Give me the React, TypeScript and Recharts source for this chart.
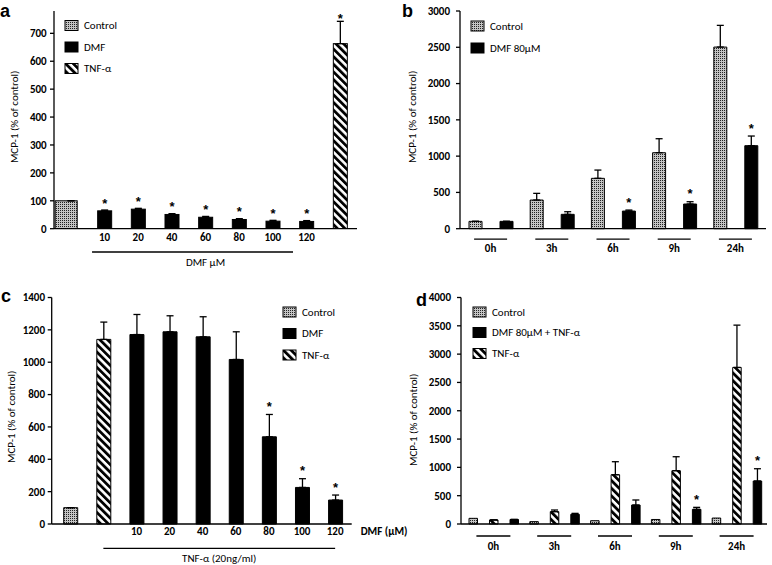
import React from 'react';
import { BarChart, Bar, XAxis, YAxis, ErrorBar, Cell, LabelList } from 'recharts';

const FONT = 'Carlito, Lato, "Open Sans", sans-serif';

// ---------- Panel a ----------
const aCats = ['Control', '10', '20', '40', '60', '80', '100', '120', 'TNF-α'];
const aGroup = ['Control', 'DMF', 'DMF', 'DMF', 'DMF', 'DMF', 'DMF', 'DMF', 'TNF-α'];
const aValues = [100, 64, 70, 51, 41, 33, 27, 26, 663];
const aErr = [0, 3, 3, 3, 3, 3, 3, 3, 80];
const aSig = ['', '*', '*', '*', '*', '*', '*', '*', '*'];
const aTicks = [0, 100, 200, 300, 400, 500, 600, 700];
const aSeries = ['Control', 'DMF', 'TNF-α'];

// ---------- Panel b ----------
const bCats = ['0h', '3h', '6h', '9h', '24h'];
const bControl = [101, 395, 694, 1047, 2503];
const bControlErr = [0, 92, 114, 193, 299];
const bDmf = [101, 198, 243, 340, 1144];
const bDmfErr = [0, 36, 14, 32, 133];
const bDmfSig = ['', '', '*', '*', '*'];
const bTicks = [0, 500, 1000, 1500, 2000, 2500, 3000];
const bSeries = ['Control', 'DMF 80µM'];

// ---------- Panel c ----------
const cCats = ['Control', 'TNF-α', '10', '20', '40', '60', '80', '100', '120'];
const cGroup = ['Control', 'TNF-α', 'DMF', 'DMF', 'DMF', 'DMF', 'DMF', 'DMF', 'DMF'];
const cValues = [101, 1141, 1171, 1188, 1157, 1017, 539, 226, 148];
const cErr = [0, 107, 124, 99, 124, 171, 138, 54, 31];
const cSig = ['', '', '', '', '', '', '*', '*', '*'];
const cTicks = [0, 200, 400, 600, 800, 1000, 1200, 1400];
const cSeries = ['Control', 'DMF', 'TNF-α'];

// ---------- Panel d ----------
const dCats = ['0h', '3h', '6h', '9h', '24h'];
const dControl = [100, 42, 58, 80, 105];
const dTnf = [72, 218, 870, 941, 2765];
const dTnfErr = [0, 29, 230, 247, 747];
const dDmf = [80, 171, 335, 259, 759];
const dDmfErr = [0, 17, 89, 35, 217];
const dDmfSig = ['', '', '', '*', '*'];
const dTicks = [0, 500, 1000, 1500, 2000, 2500, 3000, 3500, 4000];
const dSeries = ['Control', 'DMF 80µM + TNF-α', 'TNF-α'];

// ---------- tables ----------
const aData = aCats.map((c, i) => ({ cat: c, value: aValues[i], err: [0, aErr[i]], sig: aSig[i] }));
const bData = bCats.map((c, i) => ({
  cat: c, ctrl: bControl[i], ctrlErr: [0, bControlErr[i]], dmf: bDmf[i], dmfErr: [0, bDmfErr[i]], sig: bDmfSig[i],
}));
const cData = cCats.map((c, i) => ({ cat: c, value: cValues[i], err: [0, cErr[i]], sig: cSig[i] }));
const dData = dCats.map((c, i) => ({
  cat: c, ctrl: dControl[i], tnf: dTnf[i], tnfErr: [0, dTnfErr[i]], dmf: dDmf[i], dmfErr: [0, dDmfErr[i]], sig: dDmfSig[i],
}));

// ---------- styles ----------
const CTRL = 'url(#ctrlPat)';
const STRIPE = 'url(#stripePat)';
const fillFor = (g: string) => (g === 'Control' ? CTRL : g.startsWith('DMF') ? '#000' : STRIPE);
const AX = { stroke: '#000', strokeWidth: 1.3 };
const TICK = { fontSize: 11, fontWeight: 700, fill: '#000' };

const makeStar = (errs: number[], vals: number[], gap: number, minY: number) => (p: any) => {
  const { x, y, width, height, value } = p;
  if (!value) return null;
  const index = p.index;
  const v = vals[index];
  const ePx = v ? (errs[index] * Math.abs(height)) / v : 0;
  let cy = y - ePx - gap;
  if (cy < minY) cy = minY;
  return (
    <text x={x + width / 2} y={cy + 7.5} textAnchor="middle" fontSize={13} fontWeight={700} fill="#000"
      fontFamily="'Liberation Sans', Arial, sans-serif">*</text>
  );
};

const yTitle = (cx: number, dy: number) => (p: any) => {
  const vb = p.viewBox || { y: 0, height: 0 };
  const cy = vb.y + vb.height / 2 + dy;
  return (
    <text x={cx} y={cy} transform={`rotate(-90 ${cx} ${cy})`} textAnchor="middle" dominantBaseline="central"
      fontSize={11} fill="#000">MCP-1 (% of control)</text>
  );
};

// ---------- ticks ----------
const TickNum = (labels: string[], dy: number) => (p: any) => {
  const { x, y, index } = p;
  const t = labels[index];
  if (!t) return <g />;
  return (
    <text x={x} y={y + dy} textAnchor="middle" dominantBaseline="central" fontSize={11} fontWeight={700} fill="#000">{t}</text>
  );
};

const TickGroup = (lineDy: number, textDy: number, half: number) => (p: any) => {
  const { x, y, payload } = p;
  return (
    <g>
      <line x1={x - half} x2={x + half} y1={y + lineDy} y2={y + lineDy} stroke="#000" strokeWidth={1.3} />
      <text x={x} y={y + textDy} textAnchor="middle" dominantBaseline="central" fontSize={11} fontWeight={700} fill="#000">{payload.value}</text>
    </g>
  );
};

const aTickLabels = aCats.map((c, i) => (aGroup[i] === 'DMF' ? c : ''));
const cTickLabels = cCats.map((c, i) => (cGroup[i] === 'DMF' ? c : ''));

const aXLabel = (p: any) => {
  const { x, y, width } = p.viewBox;
  const b = width / aCats.length;
  return (
    <g>
      <line x1={x + b * 1.13} x2={x + b * 7.1} y1={y + 23.3} y2={y + 23.3} stroke="#000" strokeWidth={1.3} />
      <text x={x + width / 2} y={y + 33.5} textAnchor="middle" dominantBaseline="central" fontSize={11} fill="#000">DMF µM</text>
    </g>
  );
};

const cXLabel = (p: any) => {
  const { x, y, width } = p.viewBox;
  const x0 = x + 2;
  const b = (width - 2) / cCats.length;
  return (
    <g>
      <text x={x + width + 9} y={y + 7.7} dominantBaseline="central" fontSize={11} fontWeight={700} fill="#000">DMF (µM)</text>
      <line x1={x0 + b * 1.5} x2={x0 + b * 8.5} y1={y + 24.3} y2={y + 24.3} stroke="#000" strokeWidth={1.3} />
      <text x={x0 + b * 5} y={y + 34.3} textAnchor="middle" dominantBaseline="central" fontSize={11} fill="#000">TNF-α (20ng/ml)</text>
    </g>
  );
};

const aShape = (p: any) => {
  let { x, width } = p;
  const { y, height, index } = p;
  if (aGroup[index] === 'Control') {
    x = x - 8.8;
    width = 22;
  }
  return <rect x={x} y={y} width={width} height={height} fill={fillFor(aGroup[index])} stroke="#000" strokeWidth={1} />;
};

function PanelA() {
  return (
    <div style={{ position: 'absolute', left: 0, top: 0 }}>
      <BarChart width={386} height={280} data={aData} margin={{ top: 11, right: 29, left: 14, bottom: 11.3 }} barSize={14}>
        <XAxis dataKey="cat" interval={0} tickLine={false} axisLine={AX} tickSize={0} tickMargin={0} height={40}
          tick={TickNum(aTickLabels, 8.5)} label={aXLabel} />
        <XAxis xAxisId="top" orientation="top" dataKey="cat" tick={false} tickLine={false} axisLine={AX} height={0} />
        <YAxis domain={[0, 780]} ticks={aTicks} allowDataOverflow tick={TICK} tickSize={4} tickMargin={3.3}
          axisLine={AX} tickLine={AX} width={40} label={yTitle(15, -3)} />
        <YAxis yAxisId="r" orientation="right" domain={[0, 780]} tick={false} tickLine={false} axisLine={AX} width={0} />
        <Bar dataKey="value" isAnimationActive={false} shape={aShape}>
          {aData.map((_, i) => <Cell key={i} fill={fillFor(aGroup[i])} />)}
          <ErrorBar dataKey="err" width={3.5} stroke="#000" strokeWidth={1.3} />
          <LabelList dataKey="sig" content={makeStar(aErr, aValues, 10, 15)} />
        </Bar>
      </BarChart>
    </div>
  );
}

function PanelB() {
  return (
    <div style={{ position: 'absolute', left: 386, top: 0 }}>
      <BarChart width={386} height={280} data={bData} margin={{ top: 11, right: 6, left: 34, bottom: 11.3 }} barSize={13} barGap={18}>
        <XAxis dataKey="cat" interval={0} tickLine={false} axisLine={AX} tickSize={0} tickMargin={0} height={40}
          tick={TickGroup(10.5, 19.5, 16.5)} />
        <XAxis xAxisId="top" orientation="top" dataKey="cat" tick={false} tickLine={false} axisLine={AX} height={0} />
        <YAxis domain={[0, 3000]} ticks={bTicks} tick={TICK} tickSize={4} tickMargin={6}
          axisLine={AX} tickLine={AX} width={40} label={yTitle(27, -3)} />
        <YAxis yAxisId="r" orientation="right" domain={[0, 3000]} tick={false} tickLine={false} axisLine={AX} width={0} />
        <Bar dataKey="ctrl" isAnimationActive={false} fill={CTRL} stroke="#000" strokeWidth={1}>
          <ErrorBar dataKey="ctrlErr" width={3.5} stroke="#000" strokeWidth={1.3} />
        </Bar>
        <Bar dataKey="dmf" isAnimationActive={false} fill="#000" stroke="#000" strokeWidth={1}>
          <ErrorBar dataKey="dmfErr" width={3.5} stroke="#000" strokeWidth={1.3} />
          <LabelList dataKey="sig" content={makeStar(bDmfErr, bDmf, 11, 0)} />
        </Bar>
      </BarChart>
    </div>
  );
}

function PanelC() {
  return (
    <div style={{ position: 'absolute', left: 0, top: 280 }}>
      <BarChart width={410} height={285} data={cData} margin={{ top: 17.5, right: 58.3, left: 11.7, bottom: 11 }} barSize={14}>
        <XAxis dataKey="cat" interval={0} tickLine={false} axisLine={AX} tickSize={0} tickMargin={0} height={30}
          padding={{ left: 2, right: 0 }} tick={TickNum(cTickLabels, 7.7)} label={cXLabel} />
        <XAxis xAxisId="top" orientation="top" dataKey="cat" tick={false} tickLine={false} axisLine={AX} height={0} />
        <YAxis domain={[0, 1400]} ticks={cTicks} tick={TICK} tickSize={4} tickMargin={2.7}
          axisLine={AX} tickLine={AX} width={40} label={yTitle(11.7, 6)} />
        <YAxis yAxisId="r" orientation="right" domain={[0, 1400]} tick={false} tickLine={false} axisLine={AX} width={0} />
        <Bar dataKey="value" isAnimationActive={false} stroke="#000" strokeWidth={1}>
          {cData.map((_, i) => <Cell key={i} fill={fillFor(cGroup[i])} />)}
          <ErrorBar dataKey="err" width={3.5} stroke="#000" strokeWidth={1.3} />
          <LabelList dataKey="sig" content={makeStar(cErr, cValues, 11, 0)} />
        </Bar>
      </BarChart>
    </div>
  );
}

function PanelD() {
  return (
    <div style={{ position: 'absolute', left: 386, top: 280 }}>
      <BarChart width={386} height={285} data={dData} margin={{ top: 17.5, right: 5, left: 35, bottom: 11 }} barSize={8.5} barGap={12}>
        <XAxis dataKey="cat" interval={0} tickLine={false} axisLine={AX} tickSize={0} tickMargin={0} height={30}
          padding={{ left: 2, right: 0 }} tick={TickGroup(12, 22.7, 17)} />
        <XAxis xAxisId="top" orientation="top" dataKey="cat" tick={false} tickLine={false} axisLine={AX} height={0} />
        <YAxis domain={[0, 4000]} ticks={dTicks} tick={TICK} tickSize={4} tickMargin={6}
          axisLine={AX} tickLine={AX} width={40} label={yTitle(27, 9)} />
        <YAxis yAxisId="r" orientation="right" domain={[0, 4000]} tick={false} tickLine={false} axisLine={AX} width={0} />
        <Bar dataKey="ctrl" isAnimationActive={false} fill={CTRL} stroke="#000" strokeWidth={1} />
        <Bar dataKey="tnf" isAnimationActive={false} fill={STRIPE} stroke="#000" strokeWidth={1}>
          <ErrorBar dataKey="tnfErr" width={3.5} stroke="#000" strokeWidth={1.3} />
        </Bar>
        <Bar dataKey="dmf" isAnimationActive={false} fill="#000" stroke="#000" strokeWidth={1}>
          <ErrorBar dataKey="dmfErr" width={3.5} stroke="#000" strokeWidth={1.3} />
          <LabelList dataKey="sig" content={makeStar(dDmfErr, dDmf, 11, 0)} />
        </Bar>
      </BarChart>
    </div>
  );
}

const LegendBox = ({ items, sx, tx, ys }: { items: string[]; sx: number; tx: number; ys: number[] }) => (
  <g>
    {items.map((it, i) => (
      <g key={it}>
        <rect x={sx} y={ys[i] - 5} width={13} height={10} fill={fillFor(it)} stroke="#000" strokeWidth={1} />
        <text x={tx} y={ys[i]} dominantBaseline="central" fontSize={11} fill="#000">{it}</text>
      </g>
    ))}
  </g>
);

export default function App() {
  return (
    <div style={{ position: 'absolute', left: 0, top: 0, width: 772, height: 565, background: '#fff', fontFamily: FONT, overflow: 'hidden' }}>
      <svg width={0} height={0} style={{ position: 'absolute' }}>
        <defs>
          <pattern id="ctrlPat" patternUnits="userSpaceOnUse" width={2} height={2}>
            <rect width={2} height={2} fill="#c4c4c4" />
            <rect width={1} height={1} fill="#222" />
          </pattern>
          <pattern id="stripePat" patternUnits="userSpaceOnUse" width={5.4} height={5.4} patternTransform="rotate(-45)">
            <rect width={5.4} height={5.4} fill="#fff" />
            <rect width={2.8} height={5.4} fill="#000" />
          </pattern>
        </defs>
      </svg>
      <PanelA />
      <PanelB />
      <PanelC />
      <PanelD />
      <svg width={772} height={565} style={{ position: 'absolute', left: 0, top: 0, pointerEvents: 'none', fontFamily: FONT }}>
        <LegendBox items={aSeries} sx={65} tx={84} ys={[25.5, 47, 68.5]} />
        <LegendBox items={bSeries} sx={471} tx={490} ys={[26, 48]} />
        <LegendBox items={cSeries} sx={283} tx={302} ys={[312, 333.5, 355]} />
        <LegendBox items={dSeries} sx={473} tx={492} ys={[312, 332.5, 353.5]} />
        <g fontFamily="'Liberation Sans', Arial, sans-serif" fontWeight={700} fontSize={18} fill="#000">
          <text x={0} y={17}>a</text>
          <text x={402} y={17}>b</text>
          <text x={1} y={302}>c</text>
          <text x={416} y={306}>d</text>
        </g>
      </svg>
    </div>
  );
}
